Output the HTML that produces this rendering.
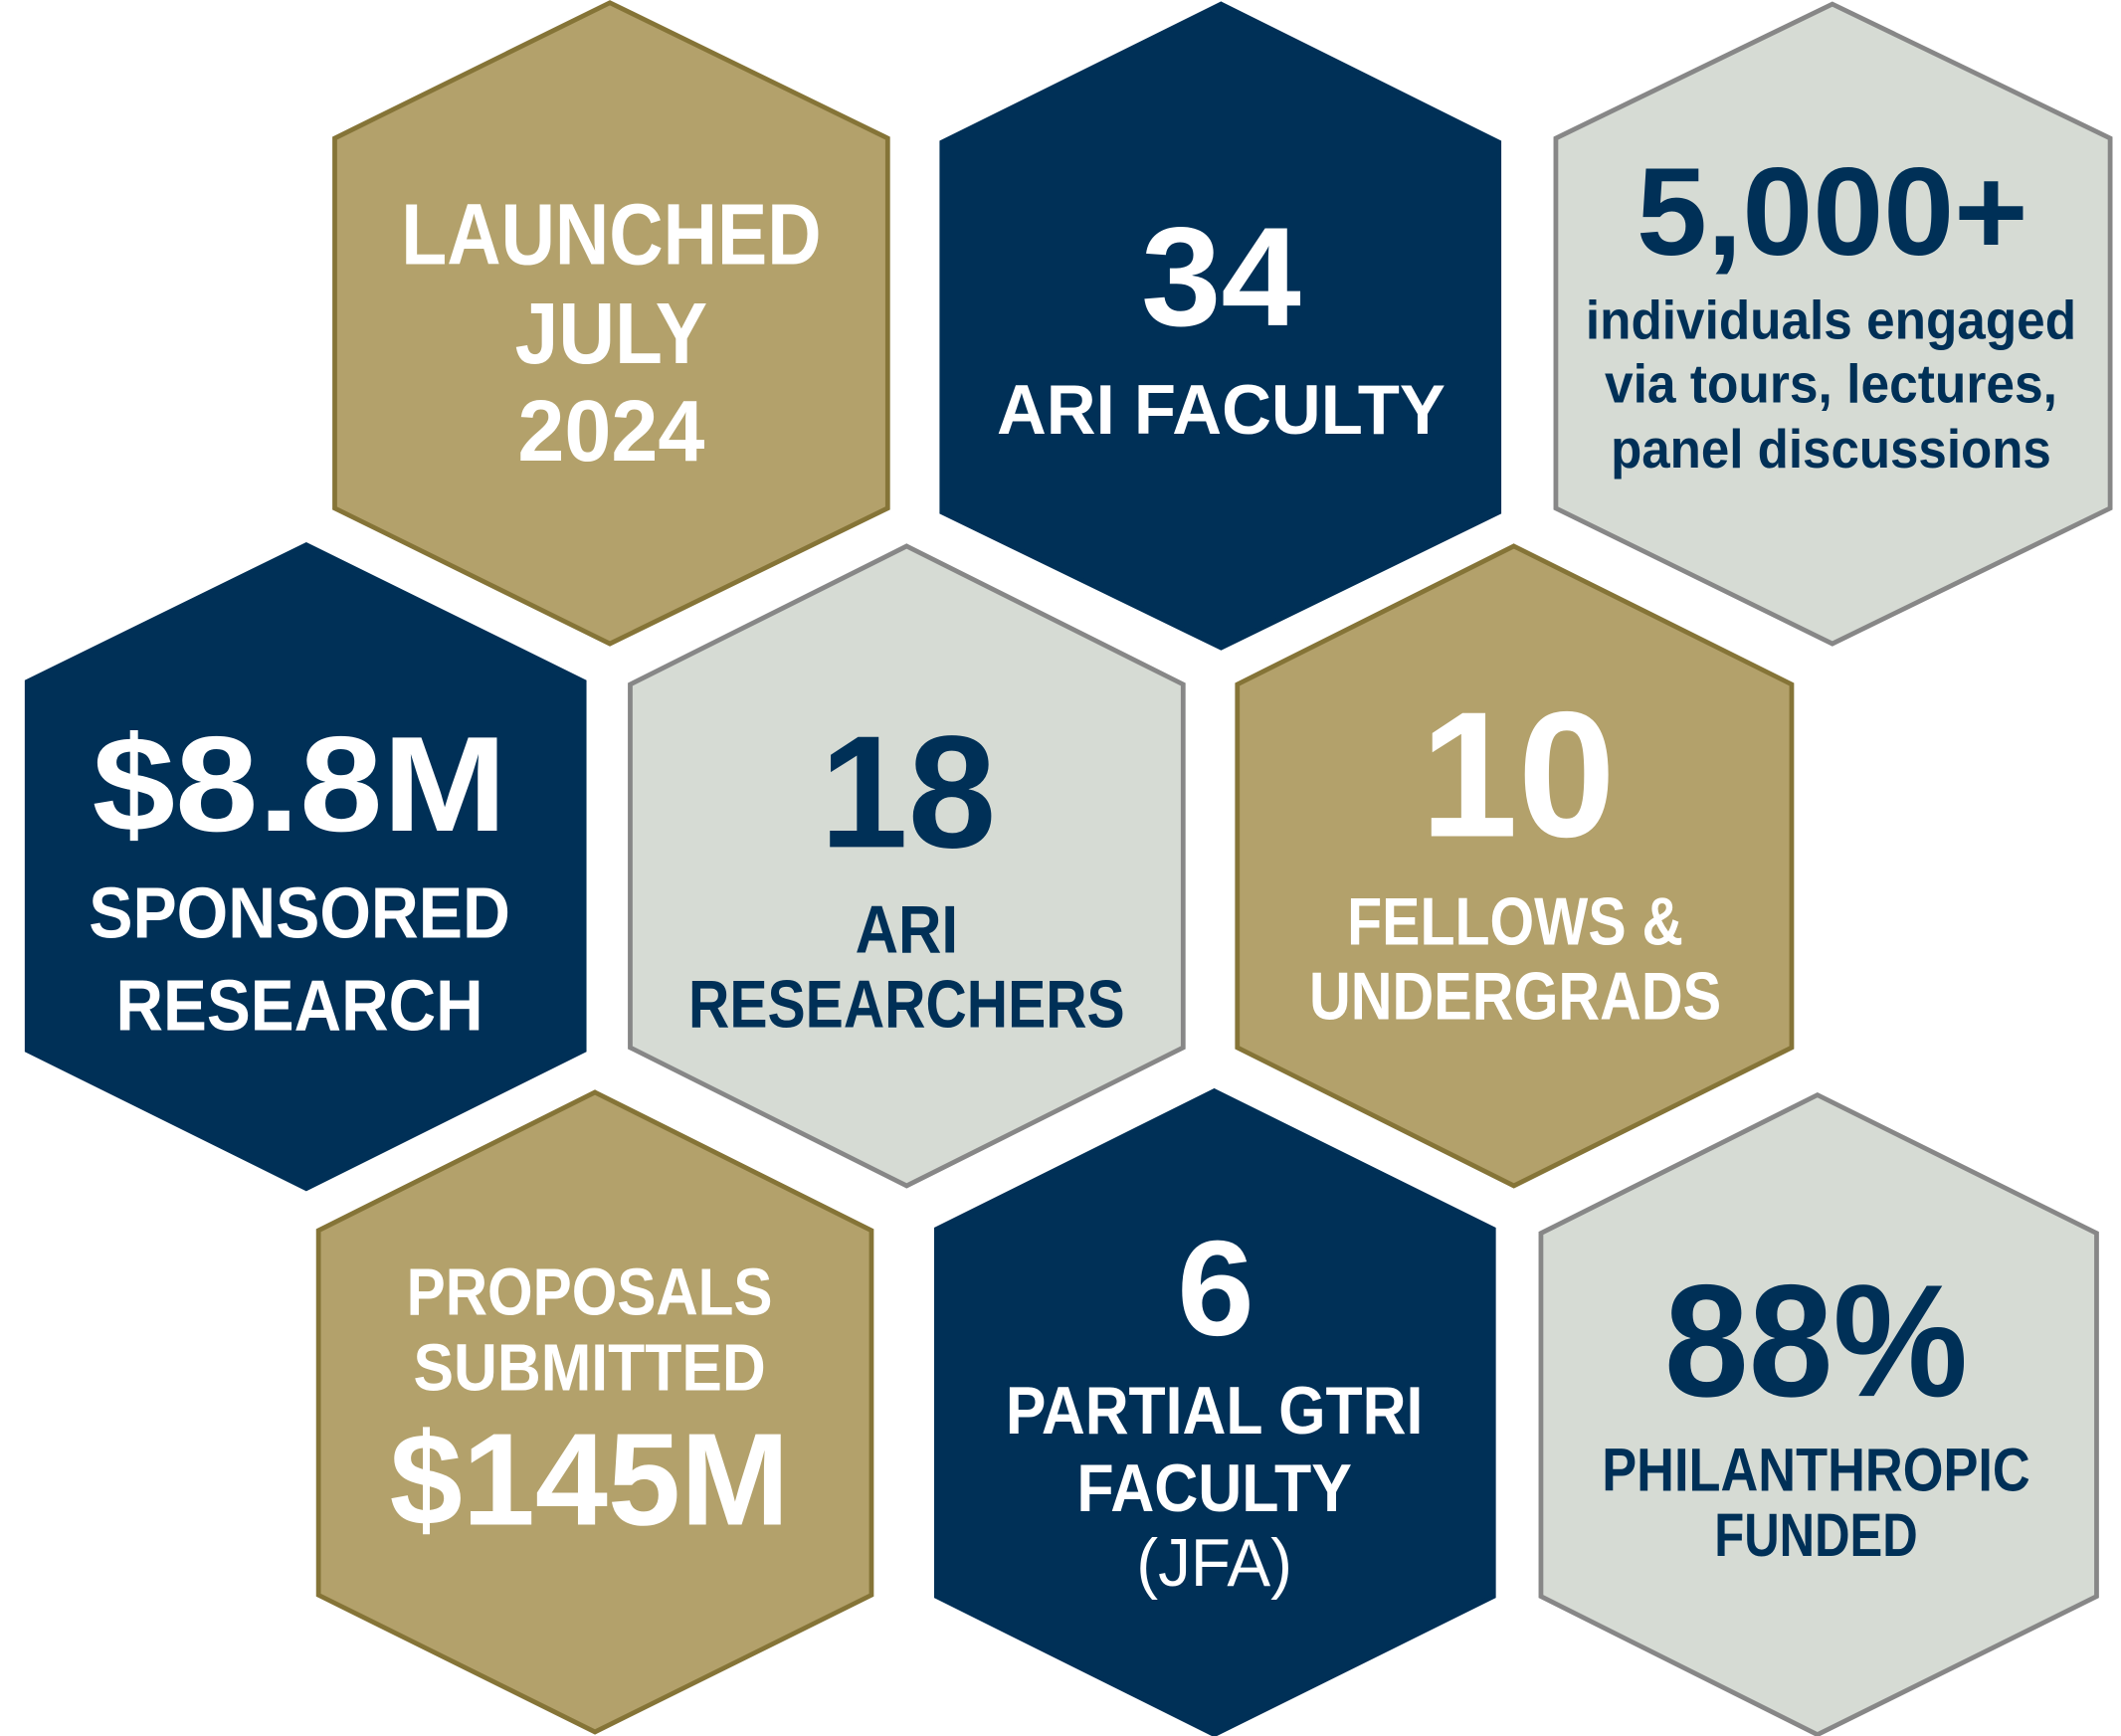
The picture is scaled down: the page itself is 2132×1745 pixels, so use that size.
<!DOCTYPE html>
<html><head><meta charset="utf-8"><style>html,body{margin:0;padding:0;background:#fff}svg{display:block}</style></head>
<body>
<svg width="2132" height="1745" viewBox="0 0 1565 1281" preserveAspectRatio="none" xmlns="http://www.w3.org/2000/svg" font-family="Liberation Sans, Arial, sans-serif" font-weight="bold" text-anchor="middle">
<g stroke-width="3.5">
<polygon points="450,2 655,102 655,375 450,475 247,375 247,102" fill="#b3a16b" stroke="#857437"/>
<polygon points="901,3 1106,105 1106,378 901,478 695,378 695,105" fill="#003057" stroke="#003057"/>
<polygon points="1352,3 1557,102 1557,375 1352,475 1148,375 1148,102" fill="#d6dbd4" stroke="#878787"/>
<polygon points="226,402 431,503 431,775 226,877 20,775 20,503" fill="#003057" stroke="#003057"/>
<polygon points="669,403 873,505 873,773 669,875 465,773 465,505" fill="#d6dbd4" stroke="#878787"/>
<polygon points="1117,403 1322,505 1322,773 1117,875 913,773 913,505" fill="#b3a16b" stroke="#857437"/>
<polygon points="439,806 643,908 643,1177 439,1278 235,1177 235,908" fill="#b3a16b" stroke="#857437"/>
<polygon points="896,805 1102,907 1102,1178 896,1280 691,1178 691,907" fill="#003057" stroke="#003057"/>
<polygon points="1341,808 1547,910 1547,1178 1341,1280 1137,1178 1137,910" fill="#d6dbd4" stroke="#878787"/>
</g>
<g fill="#fff">
<text x="451" y="195" font-size="64" textLength="310" lengthAdjust="spacingAndGlyphs">LAUNCHED</text>
<text x="451" y="268" font-size="64" textLength="142" lengthAdjust="spacingAndGlyphs">JULY</text>
<text x="451" y="340" font-size="64" textLength="138" lengthAdjust="spacingAndGlyphs">2024</text>
<text x="901" y="240" font-size="104" textLength="118" lengthAdjust="spacingAndGlyphs">34</text>
<text x="901" y="320" font-size="52" textLength="331" lengthAdjust="spacingAndGlyphs">ARI FACULTY</text>
<text x="221" y="613" font-size="100" textLength="306" lengthAdjust="spacingAndGlyphs">$8.8M</text>
<text x="221" y="692" font-size="53" textLength="311" lengthAdjust="spacingAndGlyphs">SPONSORED</text>
<text x="221" y="760" font-size="53" textLength="271" lengthAdjust="spacingAndGlyphs">RESEARCH</text>
<text x="1120" y="617" font-size="132" textLength="144" lengthAdjust="spacingAndGlyphs">10</text>
<text x="1118" y="697" font-size="50" textLength="248" lengthAdjust="spacingAndGlyphs">FELLOWS &amp;</text>
<text x="1118" y="752" font-size="50" textLength="304" lengthAdjust="spacingAndGlyphs">UNDERGRADS</text>
<text x="435" y="970" font-size="49" textLength="270" lengthAdjust="spacingAndGlyphs">PROPOSALS</text>
<text x="435" y="1026" font-size="49" textLength="260" lengthAdjust="spacingAndGlyphs">SUBMITTED</text>
<text x="435" y="1125" font-size="97" textLength="295" lengthAdjust="spacingAndGlyphs">$145M</text>
<text x="897" y="985" font-size="100" textLength="57" lengthAdjust="spacingAndGlyphs">6</text>
<text x="896" y="1058" font-size="50" textLength="308" lengthAdjust="spacingAndGlyphs">PARTIAL GTRI</text>
<text x="896" y="1115" font-size="50" textLength="203" lengthAdjust="spacingAndGlyphs">FACULTY</text>
<text x="896" y="1170" font-size="50" font-weight="normal" textLength="115" lengthAdjust="spacingAndGlyphs">(JFA)</text>
</g>
<g fill="#003057">
<text x="1352" y="188" font-size="92" textLength="289" lengthAdjust="spacingAndGlyphs">5,000+</text>
<text x="1351" y="250" font-size="40" textLength="362" lengthAdjust="spacingAndGlyphs">individuals engaged</text>
<text x="1351" y="297" font-size="40" textLength="334" lengthAdjust="spacingAndGlyphs">via tours, lectures,</text>
<text x="1351" y="345" font-size="40" textLength="325" lengthAdjust="spacingAndGlyphs">panel discussions</text>
<text x="670" y="625" font-size="118" textLength="130" lengthAdjust="spacingAndGlyphs">18</text>
<text x="669" y="703" font-size="50" textLength="76" lengthAdjust="spacingAndGlyphs">ARI</text>
<text x="669" y="758" font-size="50" textLength="322" lengthAdjust="spacingAndGlyphs">RESEARCHERS</text>
<text x="1340" y="1030" font-size="118" textLength="224" lengthAdjust="spacingAndGlyphs">88%</text>
<text x="1340" y="1100" font-size="45" textLength="316" lengthAdjust="spacingAndGlyphs">PHILANTHROPIC</text>
<text x="1340" y="1148" font-size="45" textLength="150" lengthAdjust="spacingAndGlyphs">FUNDED</text>
</g>
</svg>
</body></html>
